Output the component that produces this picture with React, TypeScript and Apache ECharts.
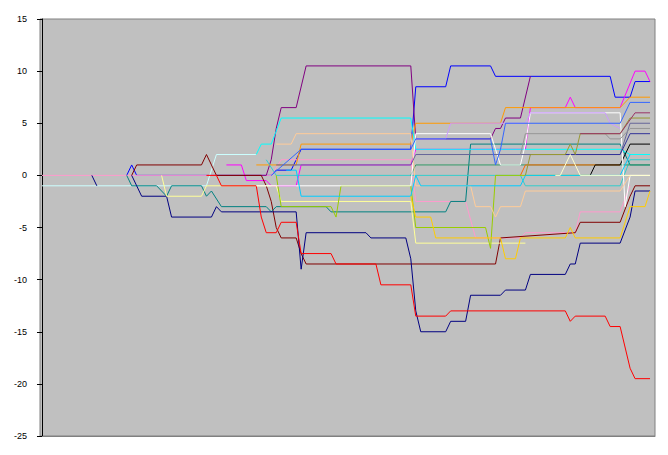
import React, { useEffect, useRef } from "react";
import * as echarts from "echarts";

// Y axis ticks
const yTicks = [-25, -20, -15, -10, -5, 0, 5, 10, 15];

// Each series: [period, value] breakpoints
const navyA = [[10, 0], [11, -1]];
const navyB = [[18, 0], [19, -1], [20, -2], [25, -2], [26, -4], [34, -4], [35, -3], [36, -3.5], [51, -3.5], [52, -9], [53, -5.5], [65, -5.5], [66, -6], [73, -6], [74, -8], [75, -13], [76, -15], [81, -15], [82, -14], [85, -14], [86, -11.5], [92, -11.5], [93, -11], [97, -11], [98, -9.5], [105, -9.5], [106, -8.5], [107, -8.5], [108, -6.5], [116, -6.5], [118, -4], [119, -1.5], [122, -1.5]];
const red = [[33, 0], [35, 0], [36, -1], [43, -1], [44, -4], [45, -5.5], [47, -5.5], [48, -4.5], [51, -4.5], [52, -7.5], [58, -7.5], [59, -8.5], [67, -8.5], [68, -10.5], [74, -10.5], [75, -13.5], [81, -13.5], [82, -13], [105, -13], [106, -14], [107, -13.5], [113, -13.5], [114, -14.5], [116, -14.5], [118, -18.5], [119, -19.5], [122, -19.5]];
const maroon = [[18, 0], [19, 1], [32, 1], [33, 2], [34, 1], [35, 0], [44, 0], [45, -1], [46, -2.5], [47, -5], [48, -6], [51, -6], [52, -7.5], [53, -8.5], [91, -8.5], [92, -6], [107, -5.5], [108, -4.5], [116, -4.5], [118, -2], [119, -1], [122, -1]];
const purple = [[35, 0], [45, 0], [46, 1.5], [47, 4.5], [48, 6.5], [51, 6.5], [53, 10.5], [74, 10.5], [75, 3.5], [90, 3.5], [91, 4.5], [92, 4.5], [93, 5.5], [96, 5.5], [98, 9.5]];
const blue = [[17, 0], [18, 1], [19, 0], [46, 0], [47, 0.5], [50, 0.5], [52, 2.5], [74, 2.5], [75, 8.5], [81, 8.5], [82, 10.5], [90, 10.5], [91, 9.5], [114, 9.5], [115, 7.5], [118, 7.5], [119, 9], [122, 9]];
const orange = [[43, 1], [51, 1], [52, 3], [74, 3], [75, 5], [92, 5], [93, 6.5], [116, 6.5], [118, 7.5], [122, 7.5]];
const magenta = [[37, 1], [40, 1], [41, -0.5], [45, -0.5], [46, -1], [51, -1], [52, 1], [74, 1], [75, 2.5], [97, 2.5], [98, 6.5], [105, 6.5], [106, 7.5], [107, 6.5], [116, 6.5], [119, 10], [121, 10], [122, 9]];
const pink = [[0, 0], [46, 0], [48, 1.5], [74, 1.5], [75, -2.5], [85, -2.5], [87, -6], [96, -6], [97, -5.5], [107, -5.5], [108, -3.5], [116, -3.5], [118, -1]];
const paleCyan = [[0, -1], [33, -1], [35, 2], [43, 2]];
const cyan = [[43, 2], [44, 3], [46, 3], [48, 5.5], [74, 5.5], [75, 2.5], [116, 2.5], [118, 2], [122, 2]];
const turquoise = [[45, 1.5], [47, 0], [96, 0], [97, -1], [116, -1], [118, 1.5], [122, 1.5]];
const teal = [[17, 0], [18, -1], [23, -1], [25, -2], [26, -1], [32, -1], [33, -2], [34, -1.5], [36, -3], [45, -3], [46, -3.5], [47, -3], [57, -3], [58, -3.5], [81, -3.5], [82, -2.5], [85, -2.5], [86, 3], [116, 3], [118, 1], [122, 1]];
const yellowGreen = [[47, 0], [48, -3], [58, -3], [59, -4], [60, -1], [74, -1], [75, -5], [89, -5], [90, -7], [91, 0], [110, 0]];
const lightYellow = [[24, 0], [25, -2], [32, -2], [33, -1], [47, -1], [48, -2.5], [74, -2.5], [75, -6.5], [97, -6.5]];
const white = [[43, -1], [74, -1], [75, 4], [90, 4], [91, 2.5], [92, 1], [96, 1], [97, 3], [98, 6], [116, 6], [117, -3], [118, 0], [122, 0]];
const cream = [[103, 0], [104, 0], [106, 2], [108, 0], [122, 0]];
const tan = [[47, 3], [50, 3], [51, 4], [74, 4], [75, -1], [86, -1], [87, -3], [90, -3], [91, -4], [92, -3], [96, -3], [97, -1.5], [116, -1.5], [118, 0]];
const skyBlue = [[49, 0.5], [51, 0.5], [52, -2], [74, -2], [75, 0], [76, -1], [96, -1], [97, 0], [116, 0], [118, 2]];
const gold = [[74, -2], [75, -4], [78, -4], [79, -6], [92, -6], [93, -8], [95, -8], [96, -6], [105, -6], [106, -5], [107, -6], [116, -6], [118, -3], [121, -3], [122, -1.5]];
const slate = [[47, 1], [74, 1], [75, 2], [116, 2], [118, 5], [122, 5]];
const seaGreen = [[74, 0], [75, 1], [122, 1]];
const lavender = [[75, 3.5], [81, 3.5], [82, 5], [97, 5], [98, 6], [113, 6], [114, 5], [116, 4.5]];
const royalBlue = [[46, 0], [52, 2.5], [74, 2.5], [75, 3.5], [90, 3.5], [91, 1], [92, 2.5], [93, 5], [116, 5], [118, 7], [122, 7]];
const gray = [[96, 2], [97, 4], [113, 4], [114, 3.5], [116, 3.5], [118, 4.5], [122, 4.5]];
const olive = [[97, 0], [98, 2], [105, 2], [106, 3], [107, 2], [108, 4], [116, 4], [118, 5.5], [122, 5.5]];
const black = [[110, 0], [111, 1], [116, 1], [118, 3], [122, 3]];
const plum = [[108, 4], [116, 4], [119, 6], [122, 6]];
const indigo = [[98, 2], [116, 2], [118, 4], [122, 4]];
const darkOrange = [[96, 0], [97, 1], [116, 1]];

const seriesDefs: [string, number[][], string][] = [
  ["blue", blue, "#0000FF"],
  ["pink", pink, "#FF99CC"],
  ["paleCyan", paleCyan, "#CCFFFF"],
  ["magenta", magenta, "#FF00FF"],
  ["purple", purple, "#800080"],
  ["maroon", maroon, "#800000"],
  ["teal", teal, "#008080"],
  ["navyA", navyA, "#000080"],
  ["navyB", navyB, "#000080"],
  ["lightYellow", lightYellow, "#FFFF99"],
  ["red", red, "#FF0000"],
  ["orange", orange, "#FF9900"],
  ["cyan", cyan, "#00FFFF"],
  ["turquoise", turquoise, "#33CCCC"],
  ["seaGreen", seaGreen, "#339966"],
  ["darkOrange", darkOrange, "#FF6600"],
  ["black", black, "#000000"],
  ["yellowGreen", yellowGreen, "#99CC00"],
  ["white", white, "#FFFFFF"],
  ["tan", tan, "#FFCC99"],
  ["skyBlue", skyBlue, "#00CCFF"],
  ["gold", gold, "#FFCC00"],
  ["slate", slate, "#666699"],
  ["indigo", indigo, "#333399"],
  ["lavender", lavender, "#CC99FF"],
  ["royalBlue", royalBlue, "#3366FF"],
  ["gray", gray, "#969696"],
  ["olive", olive, "#999933"],
  ["plum", plum, "#993366"],
  ["cream", cream, "#FFFFCC"],
];

export default function App() {
  const ref = useRef<HTMLDivElement>(null);
  useEffect(() => {
    document.body.style.margin = "0";
    if (!ref.current) return;
    const chart = echarts.init(ref.current, undefined, { renderer: "svg" });
    chart.setOption({
      animation: false,
      backgroundColor: "#FFFFFF",
      grid: {
        left: 40,
        top: 19,
        width: 615,
        height: 417,
        show: true,
        backgroundColor: "#C0C0C0",
        borderColor: "#808080",
        borderWidth: 1,
      },
      xAxis: {
        type: "value",
        min: -0.4,
        max: 123,
        axisLine: { show: true, onZero: false, lineStyle: { color: "#808080", width: 1 } },
        axisTick: { show: false },
        axisLabel: { show: false },
        splitLine: { show: false },
      },
      yAxis: {
        type: "value",
        min: yTicks[0],
        max: yTicks[yTicks.length - 1],
        interval: 5,
        axisLine: { show: true, lineStyle: { color: "#000000", width: 1 } },
        axisTick: { show: true, inside: false, length: 5, lineStyle: { color: "#000000" } },
        axisLabel: {
          color: "#000000",
          fontFamily: "Liberation Sans, Arial, sans-serif",
          fontSize: 9,
          margin: 13,
        },
        splitLine: { show: false },
      },
      series: seriesDefs.map(([name, data, color]) => ({
        name,
        type: "line",
        data,
        symbol: "none",
        showSymbol: false,
        silent: true,
        lineStyle: { width: 1, color },
        itemStyle: { color },
      })),
    });
    return () => chart.dispose();
  }, []);
  return <div ref={ref} style={{ width: 668, height: 455 }} />;
}
